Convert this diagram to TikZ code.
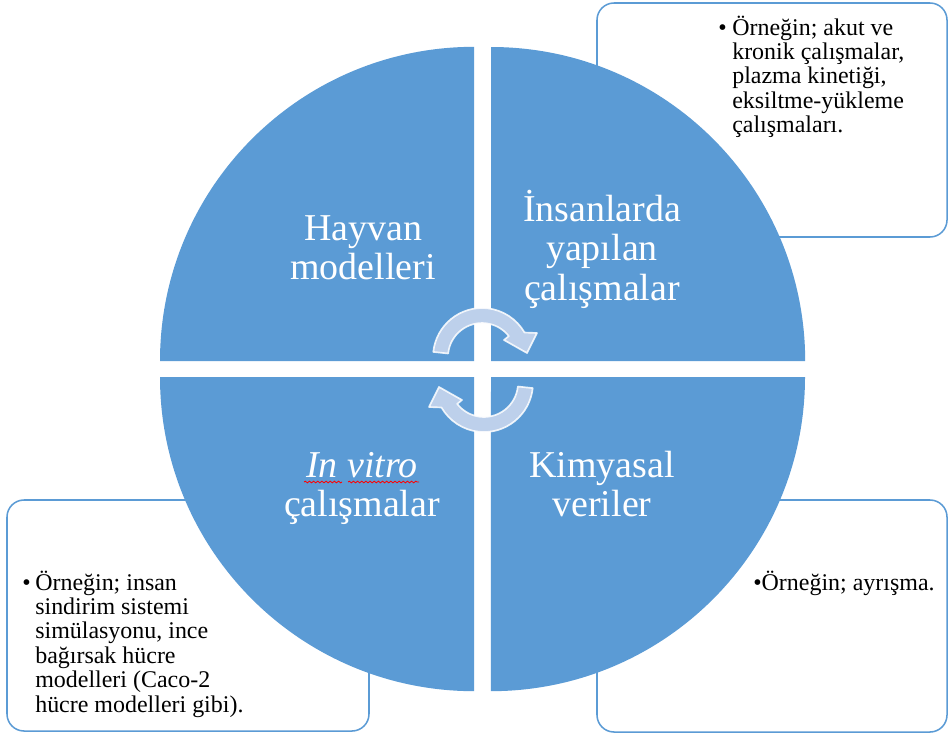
\documentclass[tikz,border=0pt]{standalone}
\usepackage{fontspec}
\setmainfont{Liberation Serif}
\usetikzlibrary{decorations.pathmorphing}
\definecolor{qblue}{RGB}{91,155,213}
\definecolor{arrfill}{RGB}{189,208,235}
\begin{document}
\begin{tikzpicture}[x=0.01in,y=0.01in,
  quad/.style={fill=qblue},
  box/.style={draw=qblue,line width=1.1pt,rounded corners=0.17in,fill=white},
  biglbl/.style={text=white,inner sep=0,anchor=base,font=\fontsize{27.4}{28.8}\selectfont},
  smalltxt/.style={text=black,inner sep=0,anchor=base west,font=\fontsize{17.3}{17.65}\selectfont},
  cyc/.style={fill=arrfill,draw=white,draw opacity=0.85,line width=1.2pt,line join=round},
  squig/.style={draw=red,line width=0.6pt,decorate,decoration={snake,segment length=3pt,amplitude=0.6pt}}]
\useasboundingbox (0,0) rectangle (948,-734);
% corner boxes
\draw[box] (597,-3) rectangle (947,-237);
\draw[box] (7,-500) rectangle (369,-731);
\draw[box] (597,-500) rectangle (947,-732);
% quadrants
\fill[quad] (474,-361) -- ++(-314,0) arc[start angle=180,end angle=90,radius=3.14in] -- cycle;
\fill[quad] (491,-361) -- ++(0,314) arc[start angle=90,end angle=0,radius=3.14in] -- cycle;
\fill[quad] (474,-377) -- ++(-314,0) arc[start angle=180,end angle=270,radius=3.14in] -- cycle;
\fill[quad] (491,-377) -- ++(314,0) arc[start angle=0,end angle=-90,radius=3.14in] -- cycle;
% quadrant labels
\node[biglbl] (hayvan) at (363,-240) {\parbox[t]{3in}{\centering Hayvan\\modelleri}};
\node[biglbl] (insan) at (602,-221) {\parbox[t]{3in}{\centering İnsanlarda\\yapılan\\çalışmalar}};
\node[biglbl] (invitro) at (362,-477) {\parbox[t]{3in}{\centering \itshape In vitro\\\upshape çalışmalar}};
\node[biglbl] (kimya) at (602,-477) {\parbox[t]{3in}{\centering Kimyasal\\veriler}};
\draw[squig] (304,-482) -- (342,-482);
\draw[squig] (348,-482) -- (419,-482);
% box texts
\node[smalltxt] (trtext) at (718,-35) {\parbox[t]{3in}{\hangindent=0.14in\hangafter=1\makebox[0.14in][l]{•}Örneğin; akut ve\\kronik çalışmalar,\\plazma kinetiği,\\eksiltme-yükleme\\çalışmaları.}};
\node[smalltxt] (lltext) at (22,-590) {\parbox[t]{3in}{\hangindent=0.13in\hangafter=1\makebox[0.13in][l]{•}Örneğin; insan\\sindirim sistemi\\simülasyonu, ince\\bağırsak hücre\\modelleri (Caco-2\\hücre modelleri gibi).}};
\node[smalltxt] (lrtext) at (753,-590) {•Örneğin; ayrışma.};
% cycle arrows
\path[cyc] (433.3,-351.9) arc[start angle=174,end angle=30,radius=0.49in] -- (537,-333) -- (527,-353) -- (504,-340) -- (508.8,-336.1) arc[start angle=38,end angle=174,radius=0.34in] -- cycle;
\begin{scope}[rotate around={180:(483,-370)}]
\path[cyc] (433.3,-351.9) arc[start angle=174,end angle=30,radius=0.49in] -- (537,-333) -- (527,-353) -- (504,-340) -- (508.8,-336.1) arc[start angle=38,end angle=174,radius=0.34in] -- cycle;
\end{scope}
\end{tikzpicture}
\end{document}
